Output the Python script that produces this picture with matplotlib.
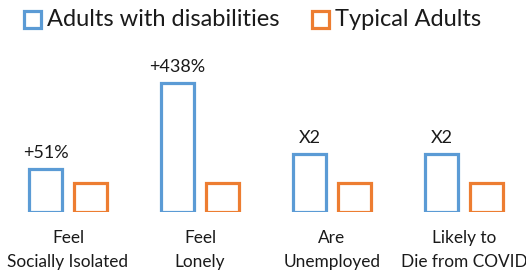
import matplotlib.pyplot as plt
from matplotlib.patches import Rectangle
import numpy as np

plt.rcParams['font.family'] = ['Lato', 'DejaVu Sans']

categories = ["Feel\nSocially Isolated", "Feel\nLonely", "Are\nUnemployed", "Likely to\nDie from COVID"]
disabled = [1.51, 4.45, 2.0, 2.0]
typical = [1.0, 1.0, 1.0, 1.0]
labels = ["+51%", "+438%", "X2", "X2"]

blue = "#5B9BD5"
orange = "#ED7D31"

fig = plt.figure(figsize=(5.26, 2.72), dpi=100)
ax = fig.add_axes([0, 0.219, 1, 5 * 29 / 272])

x = np.arange(len(categories))
w = 0.25
off = 0.17
b1 = ax.bar(x - off, disabled, w, facecolor="white", edgecolor=blue, linewidth=2.3)
b2 = ax.bar(x + off, typical, w, facecolor="white", edgecolor=orange, linewidth=2.3)

for xi, v, t in zip(x, disabled, labels):
    ax.annotate(t, (xi - off, v), xytext=(0, 11.5), textcoords="offset points",
                ha="center", va="center", fontsize=13, color="#1a1a1a",
                annotation_clip=False)

ax.set_xlim(-0.515, 3.47)
ax.set_ylim(0, 5)
ax.set_xticks(x)
ax.set_xticklabels(categories, fontsize=12.4, color="#1a1a1a", linespacing=1.55)
ax.tick_params(axis="x", length=0, pad=13)
ax.set_yticks([])
for s in ax.spines.values():
    s.set_visible(False)

# legend drawn by hand
for x0, c, txt in [(24, blue, "Adults with disabilities"), (312, orange, "Typical Adults")]:
    fig.patches.append(Rectangle((x0 / 526, 1 - 28 / 272), 17 / 526, 17 / 272,
                                 transform=fig.transFigure, facecolor="white",
                                 edgecolor=c, linewidth=2.3))
    fig.text((x0 + 23) / 526, 1 - 19 / 272, txt, fontsize=17, color="#1a1a1a",
             ha="left", va="center")

fig.savefig("out.png", dpi=100)
